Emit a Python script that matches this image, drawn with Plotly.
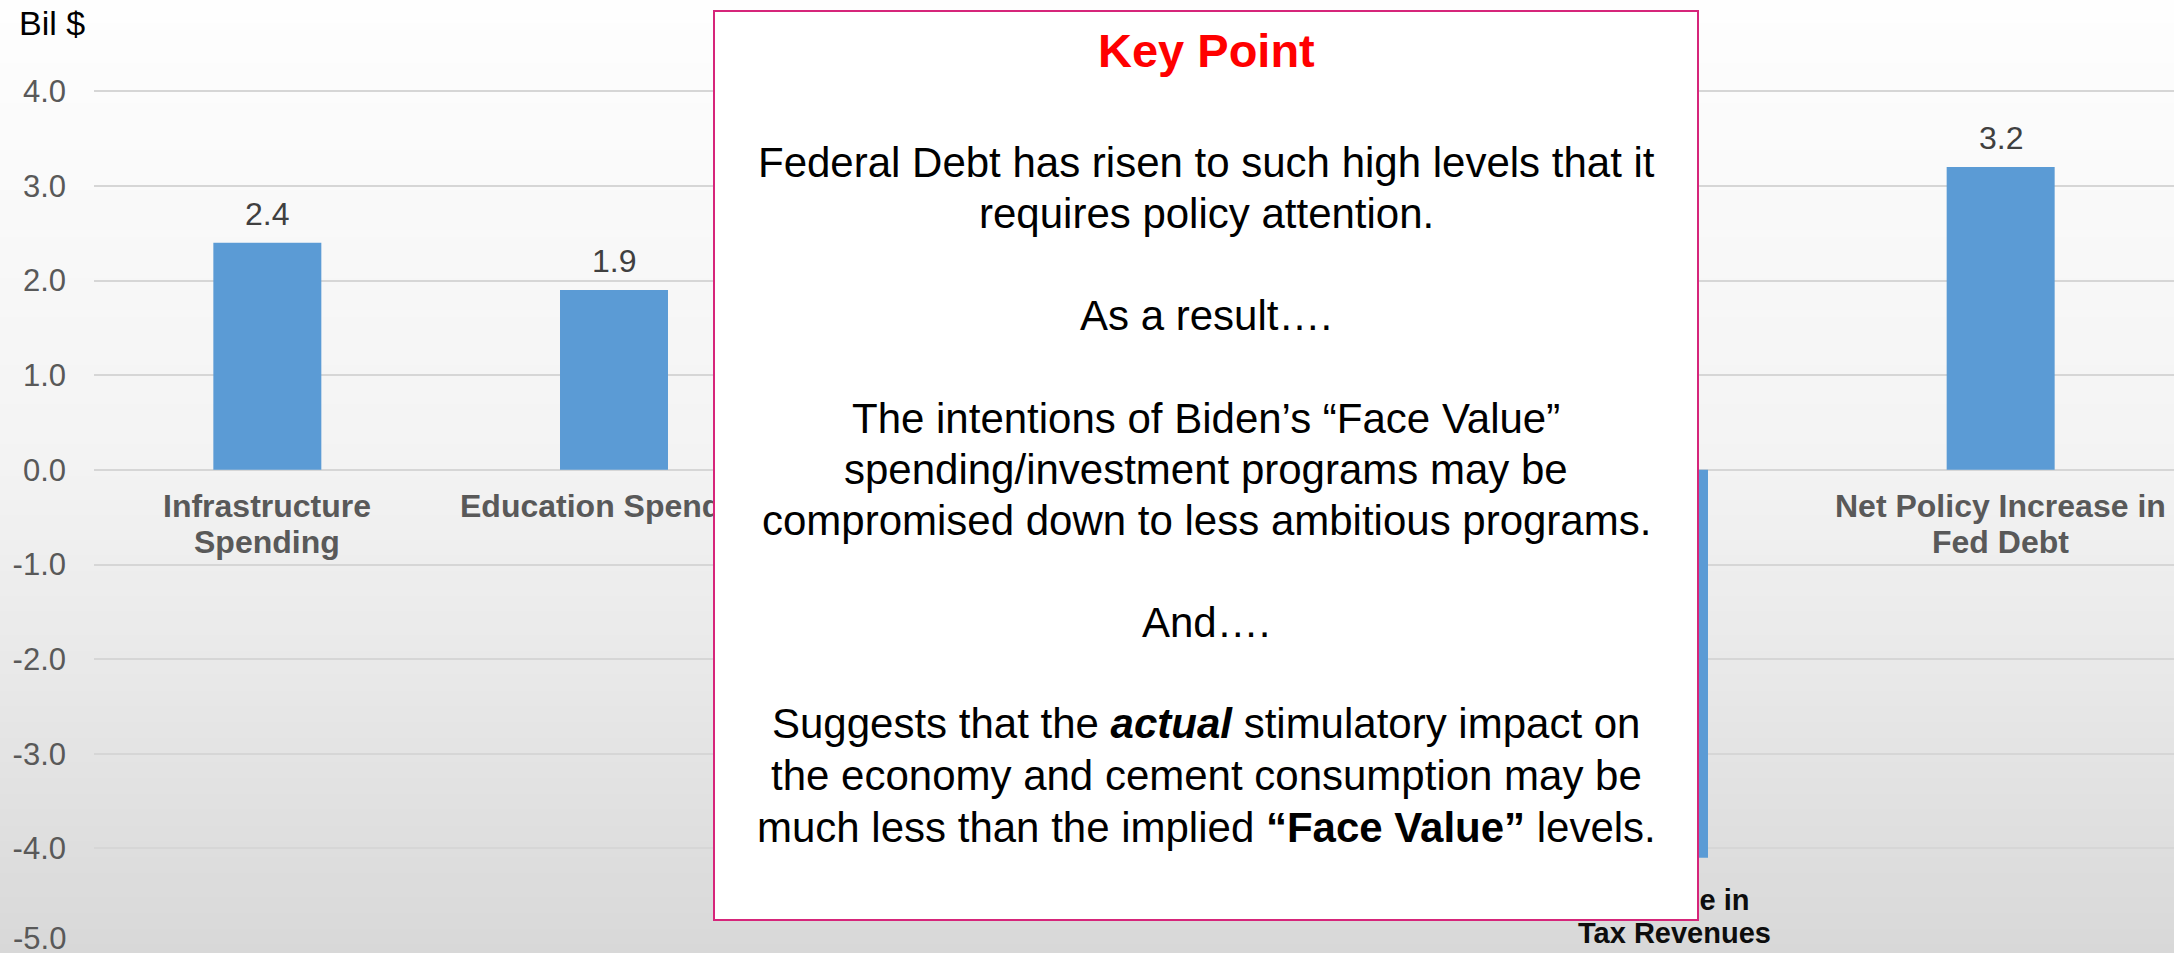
import plotly.graph_objects as go

# ---------------- data ----------------
categories = ["Infrastructure Spending", "Education Spending", "Health Care Spending",
              "Family Support Spending", "Increase in Tax Revenues",
              "Net Policy Increase in Fed Debt"]
values = [2.4, 1.9, 1.6, 1.4, -4.1, 3.2]
# category label lines as seen on the chart ("" = hidden behind the key-point box)
label_line1 = ["Infrastructure", "Education Spending", "", "", "Increase in",
               "Net Policy Increase in"]
label_line2 = ["Spending", "", "", "", "Tax Revenues", "Fed Debt"]
value_label_visible = [True, True, False, False, False, True]
y_ticks = [-5, -4, -3, -2, -1, 0, 1, 2, 3, 4]
y_tick_labels = ["-5.0", "-4.0", "-3.0", "-2.0", "-1.0", "0.0", "1.0", "2.0", "3.0", "4.0"]
y_unit_label = "Bil $"
box_title = "Key Point"
box_lines = [
    "Federal Debt has risen to such high levels that it",
    "requires policy attention.",
    "As a result\u2026.",
    "The intentions of Biden\u2019s \u201cFace Value\u201d",
    "spending/investment programs may be",
    "compromised down to less ambitious programs.",
    "And\u2026.",
    "Suggests that the <b><i>actual</i></b> stimulatory impact on",
    "the economy and cement consumption may be",
    "much less than the implied <b>\u201cFace Value\u201d</b> levels.",
]

# ---------------- layout geometry (pixels) ----------------
W, H = 2174, 953
ML, MR, MT, MB = 94, 0, 0, 10
PW, PH = W - ML - MR, H - MT - MB
UNIT = 94.625                     # pixels per 1.0 on the y axis
Y_MIN = -5.0
Y_MAX = Y_MIN + PH / UNIT
FONT = "Liberation Sans, Arial, Helvetica, sans-serif"
TICK_FONT = dict(family=FONT, size=31, color="#595959")


def py_paper(py):
    return (H - MB - py) / PH


def px_paper(px):
    return (px - ML) / PW


fig = go.Figure()
fig.add_trace(go.Bar(
    x=categories, y=values,
    marker=dict(color="#5B9BD5", line=dict(width=0)),
    hoverinfo="x+y", showlegend=False,
))

# ---------------- background gradient ----------------
stops = [(0, 254), (470, 243), (700, 231), (953, 216)]


def grey_at(p):
    for (p0, g0), (p1, g1) in zip(stops[:-1], stops[1:]):
        if p0 <= p <= p1:
            return g0 + (g1 - g0) * (p - p0) / (p1 - p0)
    return stops[-1][1]


shapes = []
N = 120
for k in range(N):
    p0 = H * k / N
    p1 = H * (k + 1) / N
    g = int(round(grey_at((p0 + p1) / 2)))
    shapes.append(dict(
        type="rect", xref="paper", yref="paper", layer="below",
        x0=px_paper(0), x1=px_paper(W),
        y0=py_paper(min(p1 + 0.5, H)), y1=py_paper(max(p0 - 0.5, 0)),
        line=dict(width=0), fillcolor=f"rgb({g},{g},{g})",
    ))

annotations = []

# unit label
annotations.append(dict(
    text=y_unit_label, xref="paper", yref="paper",
    x=px_paper(17), y=py_paper(23), xanchor="left", yanchor="middle",
    showarrow=False, font=dict(family=FONT, size=34, color="#000000"),
))

# bottom tick label sits on the lower edge of the chart: draw it with a tight box
annotations.append(dict(
    text=y_tick_labels[0], x=px_paper(67), xref="paper", y=y_ticks[0], yref="y",
    xanchor="right", yanchor="middle", yshift=5, height=24, borderpad=0,
    showarrow=False, font=TICK_FONT,
))

# category labels and data labels (drawn before the key-point box so it covers them)
for i, (cat, v) in enumerate(zip(categories, values)):
    if v >= 0:
        if value_label_visible[i]:
            annotations.append(dict(
                text=f"{v:.1f}", x=cat, y=v, xref="x", yref="y",
                xanchor="center", yanchor="bottom", yshift=9, showarrow=False,
                font=dict(family=FONT, size=32, color="#404040"),
            ))
        base, s1, s2, size, color, xs = 0, -36, -72, 32, "#595959", 0
    else:
        if value_label_visible[i]:
            annotations.append(dict(
                text=f"{v:.1f}", x=cat, y=v, xref="x", yref="y",
                xanchor="center", yanchor="top", yshift=-9, showarrow=False,
                font=dict(family=FONT, size=32, color="#404040"),
            ))
        base, s1, s2, size, color, xs = v, -42, -75, 29, "#0D0D0D", 20
    if label_line1[i]:
        annotations.append(dict(
            text=f"<b>{label_line1[i]}</b>", x=cat, y=base, xref="x", yref="y",
            xanchor="center", yanchor="middle", yshift=s1, xshift=xs, showarrow=False,
            font=dict(family=FONT, size=size, color=color),
        ))
    if label_line2[i]:
        annotations.append(dict(
            text=f"<b>{label_line2[i]}</b>", x=cat, y=base, xref="x", yref="y",
            xanchor="center", yanchor="middle", yshift=s2, xshift=xs, showarrow=False,
            font=dict(family=FONT, size=size, color=color),
        ))

# key point box
BOX_L, BOX_R, BOX_T, BOX_B = 713, 1699, 10, 921
annotations.append(dict(
    text=" ", xref="paper", yref="paper",
    x=px_paper((BOX_L + BOX_R) / 2), y=py_paper((BOX_T + BOX_B) / 2),
    xanchor="center", yanchor="middle", showarrow=False,
    width=BOX_R - BOX_L - 4, height=BOX_B - BOX_T - 4,
    bgcolor="#FFFFFF", bordercolor="#D6257A", borderwidth=2, borderpad=0,
))
box_cx = px_paper((BOX_L + BOX_R) / 2)
annotations.append(dict(
    text=f"<b>{box_title}</b>", xref="paper", yref="paper",
    x=box_cx, y=py_paper(67 - 0.35 * 47), xanchor="center", yanchor="middle",
    showarrow=False, font=dict(family=FONT, size=47, color="#FF0000"),
))
line_baselines = [177, 228, 330, 433, 484, 535, 637, 738, 790, 842]
for txt, bl in zip(box_lines, line_baselines):
    annotations.append(dict(
        text=txt, xref="paper", yref="paper",
        x=box_cx, y=py_paper(bl - 0.35 * 42), xanchor="center", yanchor="middle",
        showarrow=False, font=dict(family=FONT, size=42, color="#000000"),
    ))

fig.update_layout(
    width=W, height=H, autosize=False,
    margin=dict(l=ML, r=MR, t=MT, b=MB, pad=0),
    paper_bgcolor="#FFFFFF", plot_bgcolor="rgba(0,0,0,0)",
    bargap=0.6885,
    font=dict(family=FONT),
    shapes=shapes, annotations=annotations,
    showlegend=False,
)
fig.update_xaxes(
    type="category", range=[-0.5, len(categories) - 0.5],
    showticklabels=False, showgrid=False, zeroline=False, showline=False, ticks="",
)
fig.update_yaxes(
    range=[Y_MIN, Y_MAX], tickmode="array", tickvals=y_ticks,
    ticktext=[""] + y_tick_labels[1:],
    showgrid=True, gridcolor="#D6D6D6", gridwidth=2, zeroline=False, showline=False,
    ticks="", ticklabelstandoff=27,
    tickfont=TICK_FONT,
)

post = (
    "document.body.style.margin='0';"
    "document.body.style.overflow='hidden';"
)
fig.write_html("out.html", config={"displayModeBar": False}, post_script=post)
